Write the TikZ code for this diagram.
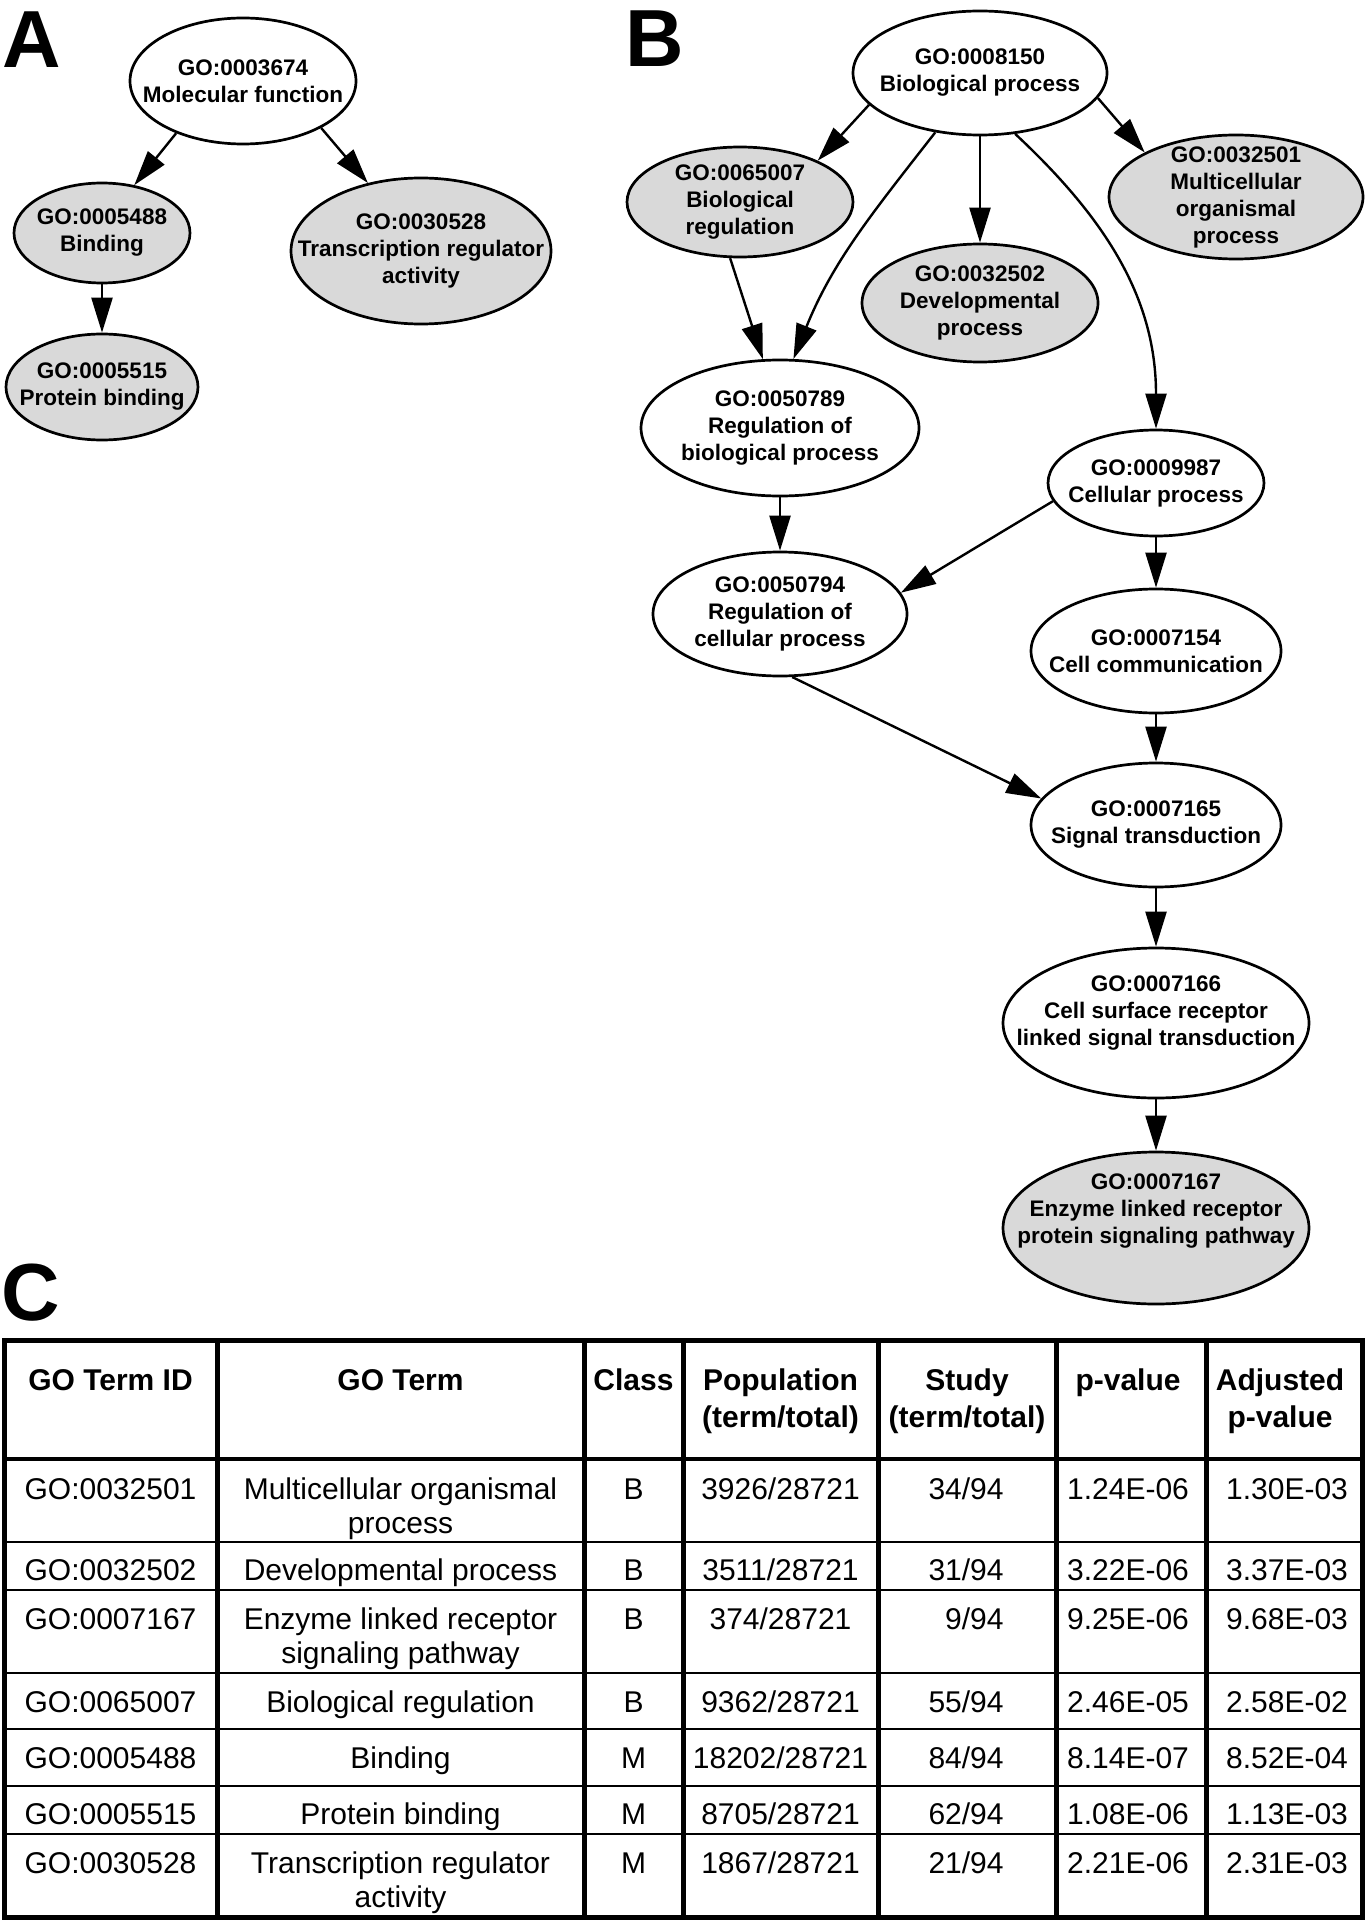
\documentclass[tikz,border=0pt]{standalone}
\usepackage{fontspec}
\setmainfont{Liberation Sans}
\usepackage{tikz}
\usetikzlibrary{shapes.geometric, arrows.meta}

\definecolor{termgray}{RGB}{217,217,217}

\begin{document}
\begin{tikzpicture}[
    x=0.5pt, y=0.5pt,
    term/.style={ellipse, draw, line width=1.35pt, inner sep=-40pt, align=center, font=\bfseries\fontsize{11.25}{13.5}\selectfont},
    sig/.style={term, fill=termgray},
    isa/.style={line width=1.2pt, -{Triangle[length=17.5pt, width=10.5pt]}},
    panel/.style={inner sep=0pt, anchor=base west, font=\bfseries\fontsize{40.5}{40.5}\selectfont},
    tcell/.style={inner sep=0pt, anchor=base, font=\fontsize{15}{17.25}\selectfont},
    hcell/.style={tcell, font=\bfseries\fontsize{15}{18.5}\selectfont},
]
    \useasboundingbox (0,0) rectangle (1369,-1920);
    \fill[white] (0,0) rectangle (1369,-1920);

    % panel labels
    \node[panel] (labA) at (2,-68) {A};
    \node[panel] (labB) at (625,-67) {B};
    \node[panel] (labC) at (1,-1320) {C};

    % A: molecular function
    \node[term, minimum width=113pt, minimum height=63pt] (mf) at (243,-81) {GO:0003674\\Molecular function};
    \node[sig, minimum width=88pt, minimum height=50pt] (bind) at (102,-233) {GO:0005488\\Binding};
    \node[sig, minimum width=130pt, minimum height=73pt] (trans) at (421,-251) {GO:0030528\\Transcription regulator\\activity};
    \node[sig, minimum width=96pt, minimum height=53pt] (prot) at (102,-387) {GO:0005515\\Protein binding};

    \draw[isa] (mf.218) -- (bind.56);
    \draw[isa] (mf.329) -- (trans.128);
    \draw[isa] (bind.south) -- (prot.north);

    % B: biological process
    \node[term, minimum width=127pt, minimum height=62pt] (bp) at (980,-73) {GO:0008150\\Biological process};
    \node[sig, minimum width=113pt, minimum height=55pt] (breg) at (740,-202) {GO:0065007\\Biological\\regulation};
    \node[sig, minimum width=118pt, minimum height=59pt] (dev) at (980,-303) {GO:0032502\\Developmental\\process};
    \node[sig, minimum width=127pt, minimum height=62pt] (mcp) at (1236,-197) {GO:0032501\\Multicellular\\organismal\\process};
    \node[term, minimum width=139pt, minimum height=68pt] (rbp) at (780,-428) {GO:0050789\\Regulation of\\biological process};
    \node[term, minimum width=108pt, minimum height=53pt] (cp) at (1156,-483) {GO:0009987\\Cellular process};
    \node[term, minimum width=127pt, minimum height=62pt] (rcp) at (780,-614) {GO:0050794\\Regulation of\\cellular process};
    \node[term, minimum width=125pt, minimum height=62pt] (cc) at (1156,-651) {GO:0007154\\Cell communication};
    \node[term, minimum width=125pt, minimum height=62pt] (st) at (1156,-825) {GO:0007165\\Signal transduction};
    \node[term, minimum width=153pt, minimum height=75pt, text depth=12pt] (csr) at (1156,-1023) {GO:0007166\\Cell surface receptor\\linked signal transduction};
    \node[sig, minimum width=153pt, minimum height=76pt, text depth=19pt] (elr) at (1156,-1228) {GO:0007167\\Enzyme linked receptor\\protein signaling pathway};

    \draw[isa] (bp.196) -- (breg.28);
    \draw[isa] (bp.233) to[out=232, in=68] (rbp.79);
    \draw[isa] (breg.260) -- (rbp.104);
    \draw[isa] (bp.south) -- (dev.north);
    \draw[isa] (bp.300) to[out=-43, in=90] (cp.north);
    \draw[isa] (bp.348) -- (mcp.154);
    \draw[isa] (rbp.south) -- (rcp.north);
    \draw[isa] (cp.190) -- (rcp.10);
    \draw[isa] (cp.south) -- (cc.north);
    \draw[isa] (rcp.281) -- (st.167);
    \draw[isa] (cc.south) -- (st.north);
    \draw[isa] (st.south) -- (csr.north);
    \draw[isa] (csr.south) -- (elr.north);

    % C: table
    \foreach \y in {1542,1590,1673,1729,1786,1834}
        \draw[line width=0.75pt] (4,-\y) -- (1362,-\y);
    \draw[line width=2pt] (4,-1459) -- (1362,-1459);
    \foreach \x in {217,584,683,878,1056,1206}
        \draw[line width=2.5pt] (\x,-1340) -- (\x,-1917);
    \draw[line width=2.5pt] (4,-1340) rectangle (1362,-1917);

    \node[hcell] (hid) at (110.5,-1390) {GO Term ID};
    \node[hcell] (hterm) at (400.5,-1390) {GO Term};
    \node[hcell] (hclass) at (633.5,-1390) {Class};
    \node[hcell] (hpop) at (780.5,-1390) {\begin{tabular}[t]{@{}c@{}}Population\\(term/total)\end{tabular}};
    \node[hcell] (hstudy) at (967,-1390) {\begin{tabular}[t]{@{}c@{}}Study\\(term/total)\end{tabular}};
    \node[hcell] (hpval) at (1128,-1390) {p-value};
    \node[hcell] (hadj) at (1280,-1390) {\begin{tabular}[t]{@{}c@{}}Adjusted\\p-value\end{tabular}};

    \foreach \y/\id/\name/\cls/\pop/\stu/\pv/\adj [count=\r] in {
        1499/GO:0032501/{Multicellular organismal\\process}/B/3926/34/1.24E-06/1.30E-03,
        1580/GO:0032502/{Developmental process}/B/3511/31/3.22E-06/3.37E-03,
        1629/GO:0007167/{Enzyme linked receptor\\signaling pathway}/B/374/9/9.25E-06/9.68E-03,
        1712/GO:0065007/{Biological regulation}/B/9362/55/2.46E-05/2.58E-02,
        1768/GO:0005488/{Binding}/M/18202/84/8.14E-07/8.52E-04,
        1824/GO:0005515/{Protein binding}/M/8705/62/1.08E-06/1.13E-03,
        1873/GO:0030528/{Transcription regulator\\activity}/M/1867/21/2.21E-06/2.31E-03}
    {
        \node[tcell] (id\r) at (110.5,-\y) {\id};
        \node[tcell] (term\r) at (400.5,-\y) {\begin{tabular}[t]{@{}c@{}}\name\end{tabular}};
        \node[tcell] (class\r) at (633.5,-\y) {\cls};
        \node[tcell] (pop\r) at (780.5,-\y) {\pop/28721};
        \node[tcell, anchor=base east] (study\r) at (1004,-\y) {\stu/94};
        \node[tcell] (pval\r) at (1128,-\y) {\pv};
        \node[tcell] (adj\r) at (1287,-\y) {\adj};
    }
\end{tikzpicture}
\end{document}
